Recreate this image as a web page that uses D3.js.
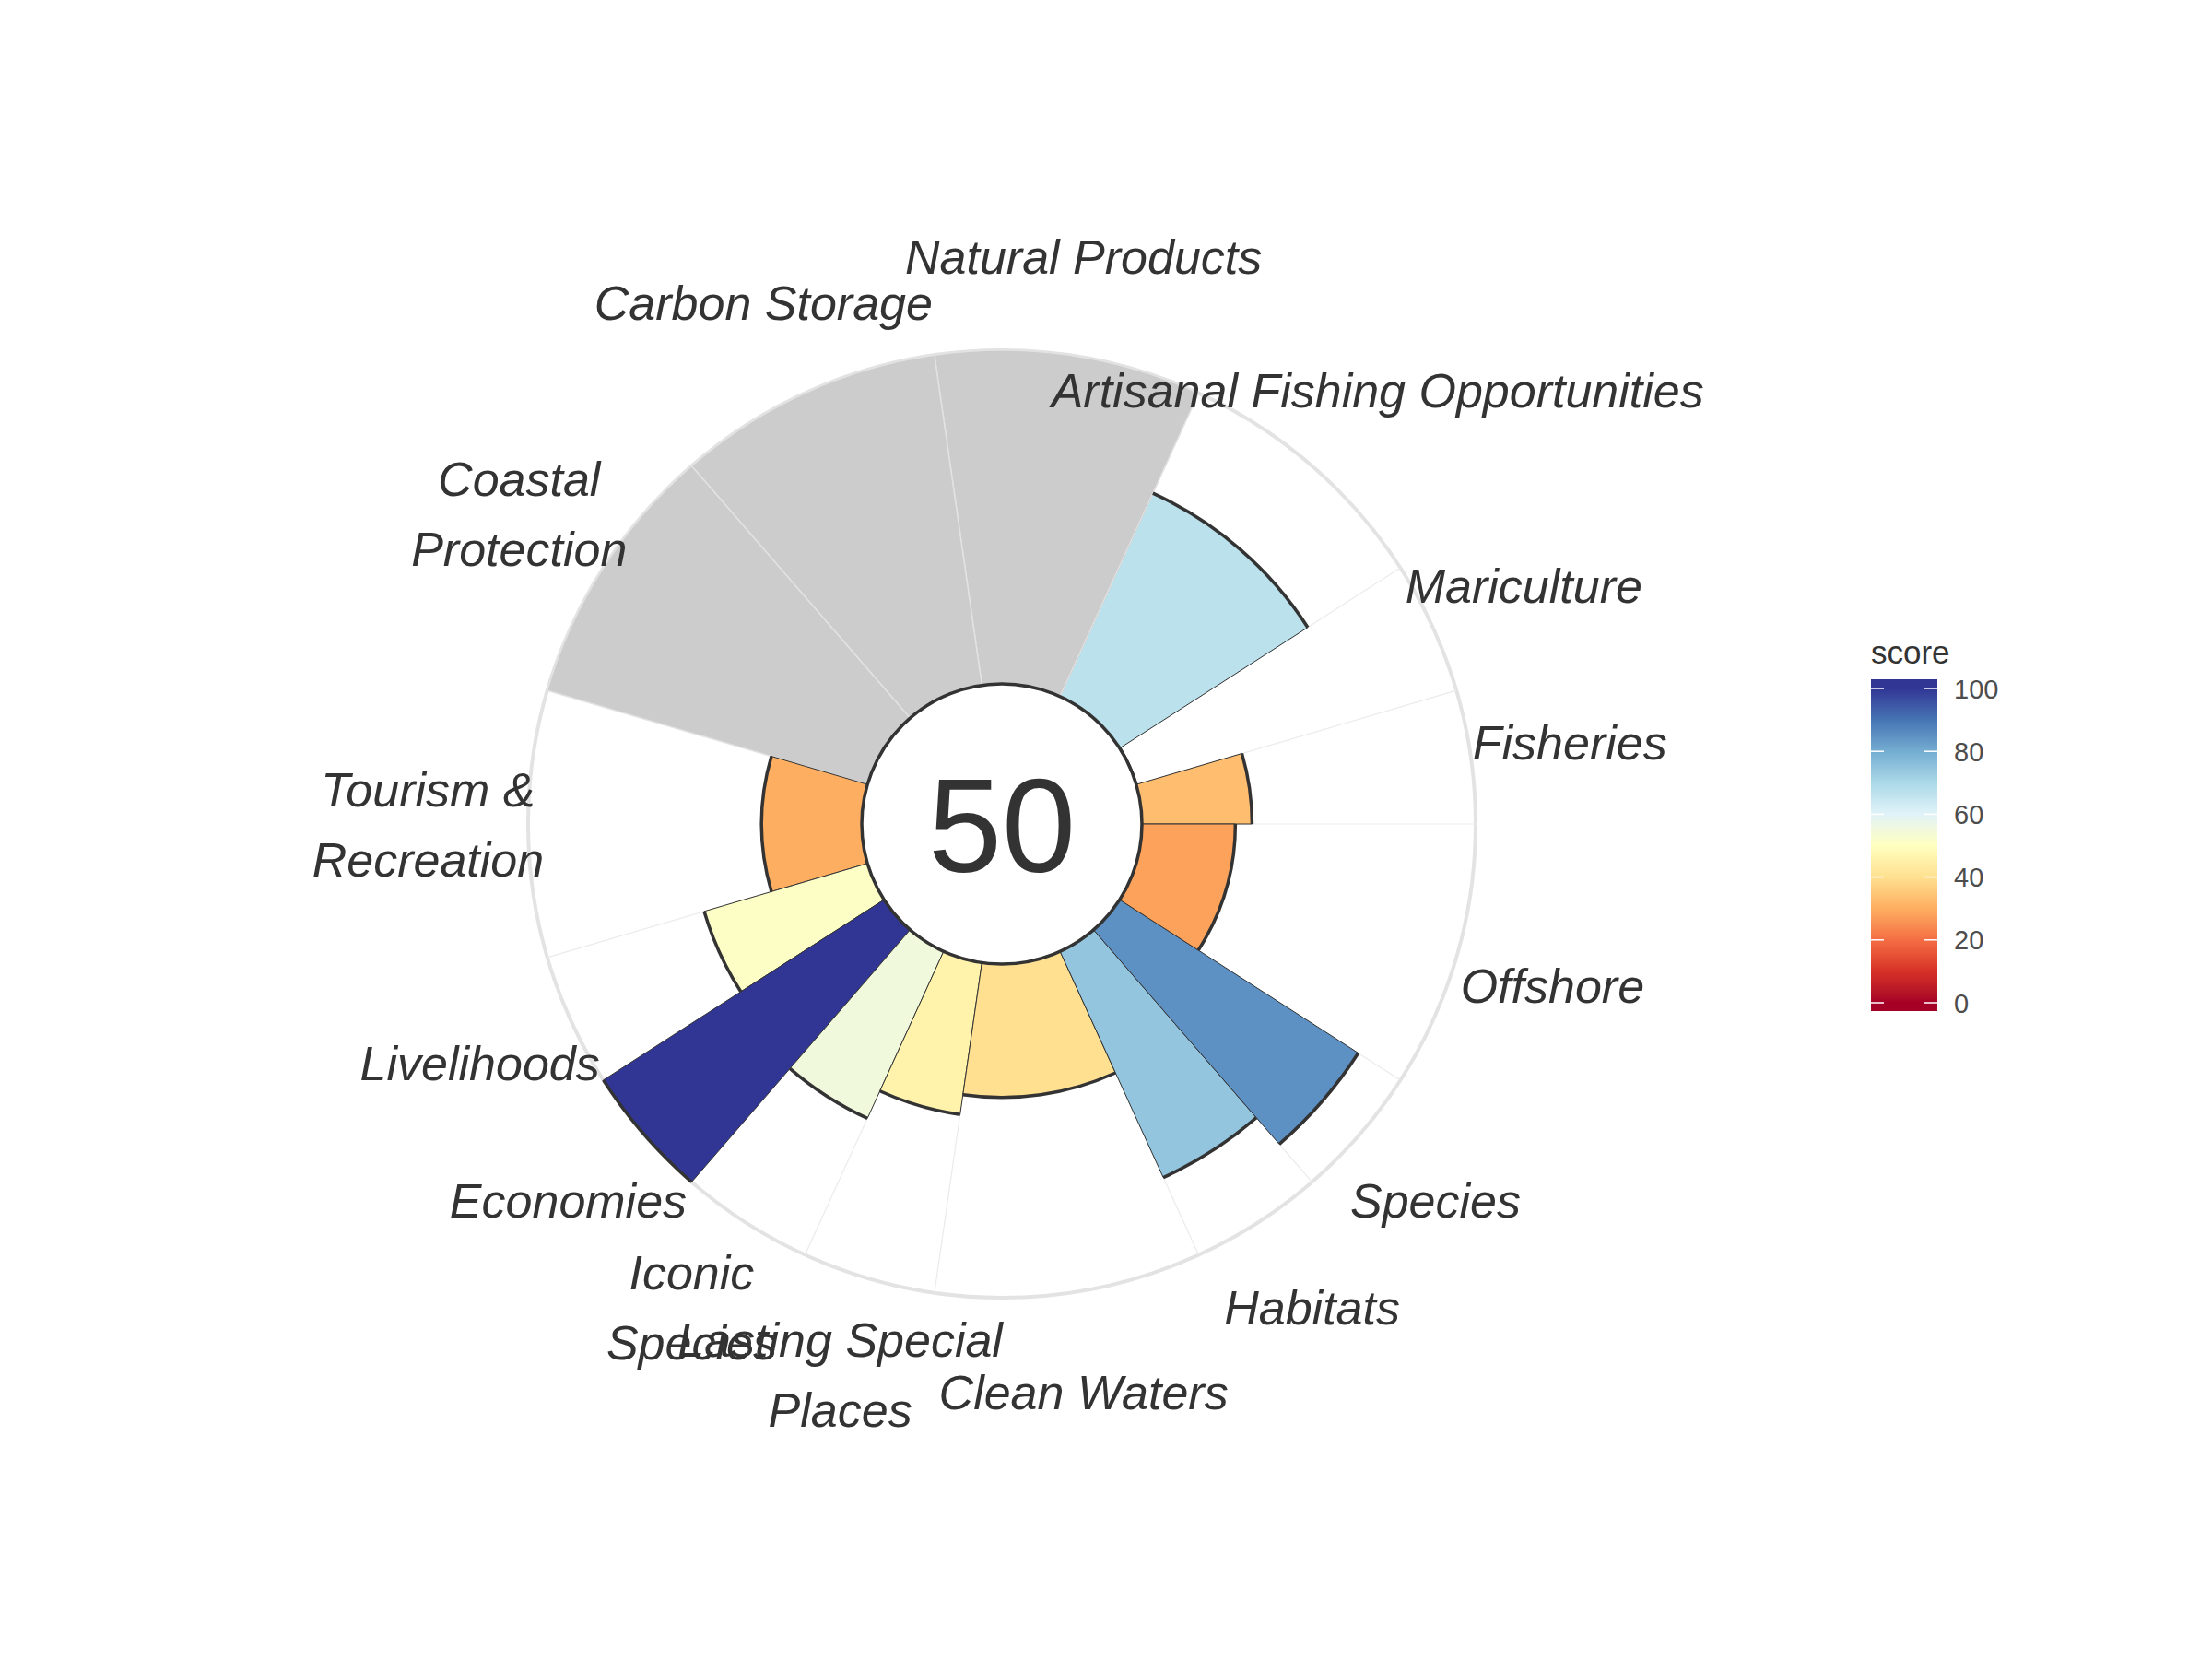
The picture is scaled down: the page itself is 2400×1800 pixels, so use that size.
<!DOCTYPE html>
<html>
<head>
<meta charset="utf-8">
<script src="https://cdn.jsdelivr.net/npm/d3@7"></script>
<style>
  html, body { margin: 0; padding: 0; background: #ffffff; }
  svg { display: block; }
</style>
</head>
<body>
<svg id="chart" width="2400" height="1800"></svg>
<script>
// ---------------- data ----------------
const goals = ["Fisheries", "Mariculture", "Artisanal Fishing Opportunities", "Natural Products",
  "Carbon Storage", "Coastal\nProtection", "Tourism &\nRecreation", "Livelihoods", "Economies",
  "Iconic\nSpecies", "Lasting Special\nPlaces", "Clean Waters", "Habitats", "Species", "Offshore"];
const weights = [0.5, 0.5, 1, 1, 1, 1, 1, 0.5, 0.5, 0.5, 0.5, 1, 0.5, 0.5, 1];
const scores = [33, 0, 67, null, null, null, 30, 51, 100, 55, 46, 40, 74.5, 85, 28];
const overallScore = 50;
const legendTicks = [0, 20, 40, 60, 80, 100];
const legendTitle = "score";
const paletteRdYlBu = ["#a50026", "#d73027", "#f46d43", "#fdae61", "#fee090", "#ffffbf",
  "#e0f3f8", "#abd9e9", "#74add1", "#4575b4", "#313695"];

// ---------------- layout ----------------
const cx = 1087, cy = 894;
const holeR = 152, outerR = 514;
const labelScore = 130;

const svg = d3.select("#chart");
svg.append("rect").attr("width", 2400).attr("height", 1800).attr("fill", "#ffffff");

const rScale = d3.scaleLinear().domain([0, 100]).range([holeR, outerR]);
const color = d3.scaleLinear()
  .domain(d3.range(0, 101, 10))
  .range(paletteRdYlBu)
  .interpolate(d3.interpolateLab);

const cum = [0, ...d3.cumsum(weights)];
const total = cum[cum.length - 1];
const theta = d3.scaleLinear().domain([0, total]).range([0, 2 * Math.PI]); // math angle, CCW from east

const data = goals.map((g, i) => ({
  goal: g, score: scores[i],
  a0: theta(cum[i]), a1: theta(cum[i + 1]),
  amid: theta((cum[i] + cum[i + 1]) / 2)
}));

const g = svg.append("g").attr("transform", `translate(${cx},${cy})`);

// outer grid circle
g.append("circle").attr("r", outerR).attr("fill", "none")
  .attr("stroke", "#e3e3e3").attr("stroke-width", 4);

// radial grid lines at petal boundaries
g.selectAll("line.grid").data(cum.slice(0, -1)).enter().append("line")
  .attr("class", "grid")
  .attr("x1", d => holeR * Math.cos(theta(d)))
  .attr("y1", d => -holeR * Math.sin(theta(d)))
  .attr("x2", d => outerR * Math.cos(theta(d)))
  .attr("y2", d => -outerR * Math.sin(theta(d)))
  .attr("stroke", "#ebebeb").attr("stroke-width", 1.2);

// petals
const arc = d3.arc()
  .innerRadius(holeR)
  .outerRadius(d => d.score == null ? outerR : rScale(d.score))
  .startAngle(d => Math.PI / 2 - d.a1)
  .endAngle(d => Math.PI / 2 - d.a0);

g.selectAll("path.petal").data(data).enter().append("path")
  .attr("class", "petal")
  .attr("d", arc)
  .attr("fill", d => d.score == null ? "#cccccc" : color(d.score))
  .attr("stroke", d => d.score == null ? "#e2e2e2" : "#333333")
  .attr("stroke-width", d => d.score == null ? 1.5 : 1);

// thick outer arcs for scored petals
g.selectAll("path.rim").data(data.filter(d => d.score != null)).enter().append("path")
  .attr("class", "rim")
  .attr("d", d => {
    const p = d3.path();
    const r = rScale(d.score);
    p.moveTo(r * Math.cos(-d.a1), r * Math.sin(-d.a1));
    p.arc(0, 0, r, -d.a1, -d.a0, false);
    return p.toString();
  })
  .attr("fill", "none").attr("stroke", "#333333").attr("stroke-width", 3.5);

// centre hole
g.append("circle").attr("r", holeR).attr("fill", "#ffffff")
  .attr("stroke", "#333333").attr("stroke-width", 3.5);

g.append("text")
  .attr("x", 0).attr("y", 52)
  .attr("text-anchor", "middle")
  .attr("font-family", "'Liberation Sans', Arial, sans-serif")
  .attr("font-size", 144)
  .attr("fill", "#333333")
  .text(overallScore);

// goal labels
const lineH = 76, capHalf = 19;
const labelR = rScale(labelScore);
data.forEach(d => {
  const lines = d.goal.split("\n");
  const lx = labelR * Math.cos(d.amid);
  const ly = -labelR * Math.sin(d.amid);
  const t = g.append("text")
    .attr("text-anchor", "middle")
    .attr("font-family", "'Liberation Sans', Arial, sans-serif")
    .attr("font-style", "italic")
    .attr("font-size", 52)
    .attr("fill", "#333333");
  lines.forEach((ln, k) => {
    t.append("tspan")
      .attr("x", lx)
      .attr("y", ly - lineH * (lines.length - 1) / 2 + capHalf + k * lineH)
      .text(ln);
  });
});

// ---------------- legend ----------------
const legX = 2030, barW = 72;
const ly = d3.scaleLinear().domain([0, 100]).range([1088, 747]);
const defs = svg.append("defs");
const grad = defs.append("linearGradient").attr("id", "legGrad")
  .attr("x1", 0).attr("y1", 1).attr("x2", 0).attr("y2", 0);
const barTop = ly(100) - 10, barBot = ly(0) + 9;
d3.range(0, 101, 2).forEach(v => {
  const yv = ly(v);
  grad.append("stop")
    .attr("offset", (barBot - yv) / (barBot - barTop))
    .attr("stop-color", color(v));
});
grad.insert("stop", ":first-child").attr("offset", 0).attr("stop-color", color(0));
grad.append("stop").attr("offset", 1).attr("stop-color", color(100));

svg.append("rect").attr("x", legX).attr("y", barTop)
  .attr("width", barW).attr("height", barBot - barTop)
  .attr("fill", "url(#legGrad)");

const tickG = svg.append("g");
legendTicks.forEach(v => {
  tickG.append("line").attr("x1", legX).attr("x2", legX + 14)
    .attr("y1", ly(v)).attr("y2", ly(v)).attr("stroke", "#ffffff").attr("stroke-width", 1.5);
  tickG.append("line").attr("x1", legX + barW - 14).attr("x2", legX + barW)
    .attr("y1", ly(v)).attr("y2", ly(v)).attr("stroke", "#ffffff").attr("stroke-width", 1.5);
  tickG.append("text").attr("x", legX + 90).attr("y", ly(v) + 10.5)
    .attr("font-family", "'Liberation Sans', Arial, sans-serif")
    .attr("font-size", 29).attr("fill", "#4d4d4d")
    .text(v);
});

svg.append("text").attr("x", legX).attr("y", 720)
  .attr("font-family", "'Liberation Sans', Arial, sans-serif")
  .attr("font-size", 35).attr("fill", "#333333")
  .text(legendTitle);
</script>
</body>
</html>
